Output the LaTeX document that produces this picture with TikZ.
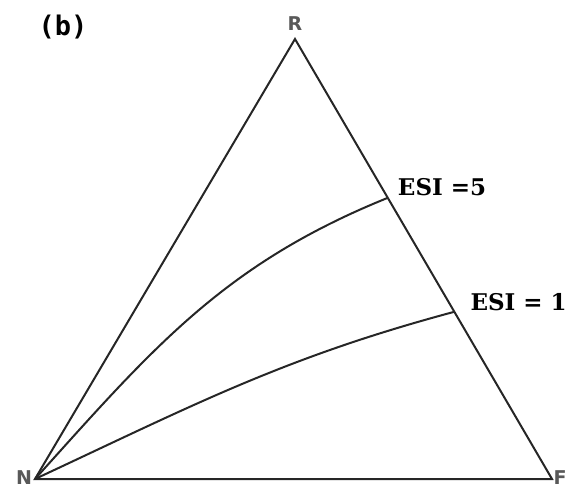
\documentclass[tikz,border=0pt]{standalone}
\usepackage{fontspec}
\usepackage{tikz}
\usetikzlibrary{calc,positioning}
\newfontfamily\vertexfont{DejaVu Sans}
\newfontfamily\esifont{DejaVu Serif}
\newfontfamily\panelfont{DejaVu Sans Mono}

\begin{document}
\begin{tikzpicture}[
  x=1pt, y=1pt,
  corner/.style = {font=\vertexfont\bfseries\fontsize{19}{21}\selectfont, text=black!65, inner sep=0pt},
  esi/.style = {font=\esifont\bfseries\fontsize{23}{26}\selectfont, inner sep=0pt, anchor=west},
  panel/.style = {font=\panelfont\bfseries\fontsize{27}{30}\selectfont, inner sep=0pt},
  side/.style = {line width=2pt, draw=black!85},
  curve/.style = {line width=2pt, draw=black!85}
]
\useasboundingbox (0,0) rectangle (568,491);

% vertices of the triangle
\coordinate (N) at (35,12);
\coordinate (F) at (552,12);
\coordinate (R) at (295,452);

% where the ESI curves meet the R--F side
\coordinate (e5) at ($(R)!0.361!(F)$);
\coordinate (e1) at ($(R)!0.62!(F)$);

\draw[side] (N) -- (F) -- (R) -- cycle;

\node[corner, above=8pt of R] (lR) {R};
\node[corner] (lN) at (24,13) {N};
\node[corner] (lF) at (560,13) {F};
\node[panel] (lb) at (63,464) {(b)};

\draw[curve] (N) to[out=48, in=202] (e5);
\draw[curve] (N) to[out=25, in=195] (e1);

\node[esi] (l5) at ($(e5)+(10,11)$) {ESI =5};
\node[esi] (l1) at ($(e1)+(16,10)$) {ESI = 1};
\end{tikzpicture}
\end{document}
